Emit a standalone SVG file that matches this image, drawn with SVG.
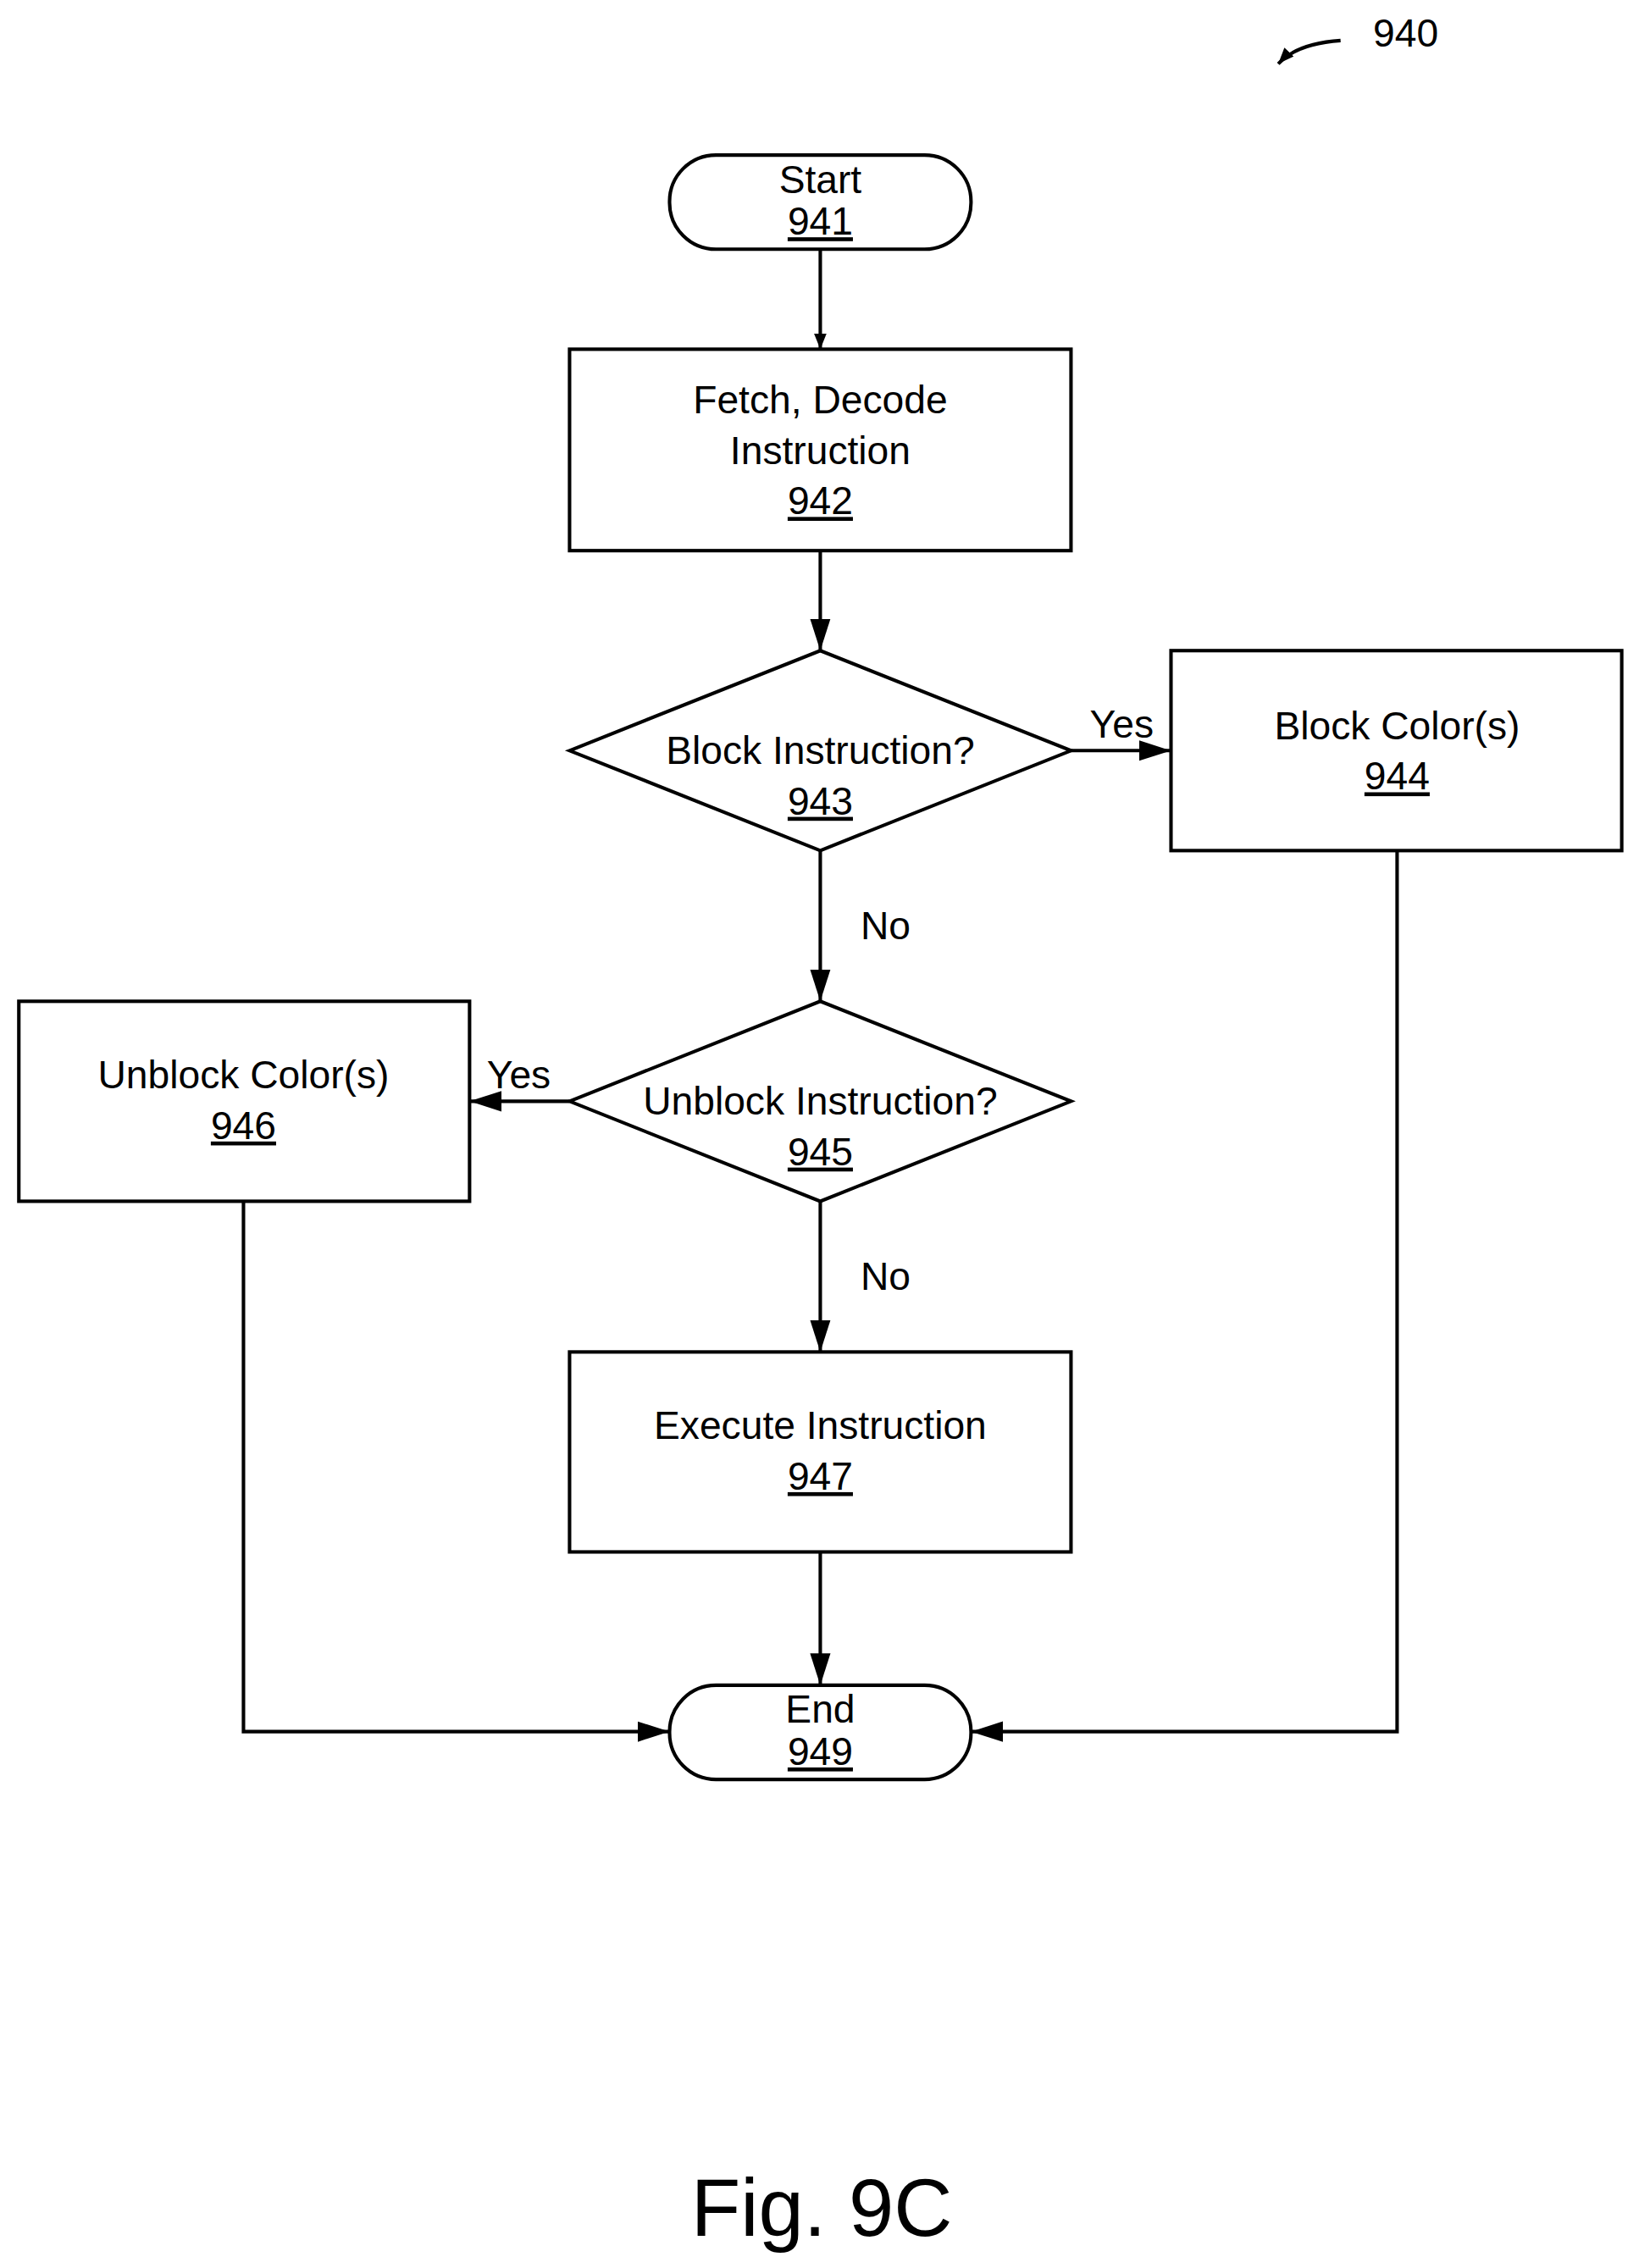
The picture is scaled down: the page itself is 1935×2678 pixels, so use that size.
<svg xmlns="http://www.w3.org/2000/svg" width="1935" height="2678" viewBox="0 0 1935 2678">
<style>
.s{fill:#fff;stroke:#000;stroke-width:2.4}
.c{fill:none;stroke:#000;stroke-width:2.4}
text{font-family:"Liberation Sans",Arial,sans-serif;font-size:27px;text-anchor:middle;fill:#000}
.u{text-decoration:underline}
</style>
<defs><marker id="a" viewBox="0 0 10 10" refX="10" refY="5" markerWidth="11" markerHeight="11" markerUnits="userSpaceOnUse" orient="auto"><path d="M0,1 L10,5 L0,9 z" fill="#000"/></marker>
<marker id="b" viewBox="0 0 10 10" refX="10" refY="5" markerWidth="22" markerHeight="22" markerUnits="userSpaceOnUse" orient="auto"><path d="M0,1.8 L10,5 L0,8.2 z" fill="#000"/></marker></defs>
<rect width="1935" height="2678" fill="#fff"/>
<g transform="scale(1.711)">
<g id="label940"><text x="970" y="32">940</text><path class="c" d="M925,28 Q895,30 882,44" marker-end="url(#a)"/></g>
<g id="n941"><rect class="s" x="462" y="107" width="208" height="65" rx="32"/><text x="566" y="133">Start</text><text class="u" x="566" y="162">941</text></g>
<g id="n942"><rect class="s" x="393" y="241" width="346" height="139"/><text x="566" y="285">Fetch, Decode</text><text x="566" y="320">Instruction</text><text class="u" x="566" y="355">942</text></g>
<g id="n943"><polygon class="s" points="393,518 566,449 739,518 566,587"/><text x="566" y="527">Block Instruction?</text><text class="u" x="566" y="562">943</text></g>
<g id="n944"><rect class="s" x="808" y="449" width="311" height="138"/><text x="964" y="510">Block Color(s)</text><text class="u" x="964" y="545">944</text></g>
<g id="n945"><polygon class="s" points="393,760 566,691 739,760 566,829"/><text x="566" y="769">Unblock Instruction?</text><text class="u" x="566" y="804">945</text></g>
<g id="n946"><rect class="s" x="13" y="691" width="311" height="138"/><text x="168" y="751">Unblock Color(s)</text><text class="u" x="168" y="786">946</text></g>
<g id="n947"><rect class="s" x="393" y="933" width="346" height="138"/><text x="566" y="993">Execute Instruction</text><text class="u" x="566" y="1028">947</text></g>
<g id="n949"><rect class="s" x="462" y="1163" width="208" height="65" rx="32"/><text x="566" y="1189">End</text><text class="u" x="566" y="1218">949</text></g>
<g id="connectors">
<line class="c" x1="566" y1="172" x2="566" y2="241" marker-end="url(#a)"/>
<line class="c" x1="566" y1="380" x2="566" y2="449" marker-end="url(#b)"/>
<line class="c" x1="566" y1="587" x2="566" y2="691" marker-end="url(#b)"/>
<line class="c" x1="566" y1="829" x2="566" y2="933" marker-end="url(#b)"/>
<line class="c" x1="566" y1="1071" x2="566" y2="1163" marker-end="url(#b)"/>
<line class="c" x1="739" y1="518" x2="808" y2="518" marker-end="url(#b)"/>
<line class="c" x1="393" y1="760" x2="324" y2="760" marker-end="url(#b)"/>
<polyline class="c" points="168,829 168,1195 462,1195" marker-end="url(#b)"/>
<polyline class="c" points="964,587 964,1195 670,1195" marker-end="url(#b)"/>
<text x="611" y="648">No</text><text x="611" y="890">No</text>
<text x="774" y="509">Yes</text><text x="358" y="751">Yes</text>
</g>
<text x="567" y="1543" style="font-size:56px">Fig. 9C</text>
</g>
</svg>
